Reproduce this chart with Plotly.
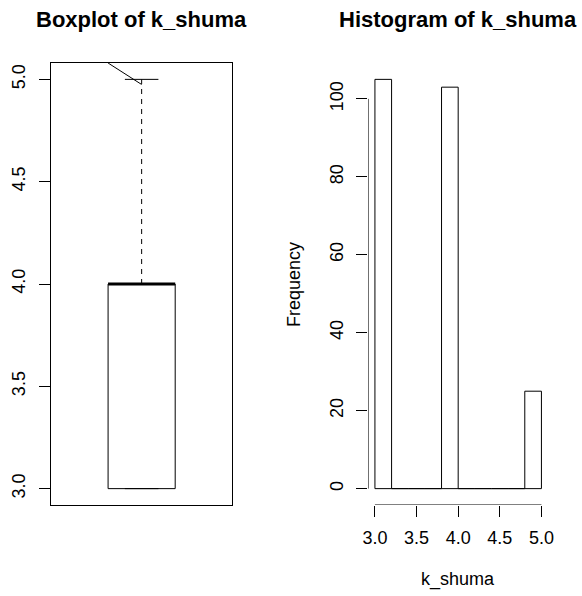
import plotly.graph_objects as go

W, H = 582, 596

# ---- data ----
box_stats = [3.0, 3.0, 4.0, 4.0, 5.0]   # lower whisker, Q1, median, Q3, upper whisker
box_yticks = [3.0, 3.5, 4.0, 4.5, 5.0]
stray_x = [0.8, 1.0]                     # odd stroke at the top of the boxplot
stray_y = [5.08, 4.975]

bin_edges = [3.0, 3.2, 3.4, 3.6, 3.8, 4.0, 4.2, 4.4, 4.6, 4.8, 5.0]
counts = [105, 0, 0, 0, 103, 0, 0, 0, 0, 25]
hist_xticks = [3.0, 3.5, 4.0, 4.5, 5.0]
hist_yticks = [0, 20, 40, 60, 80, 100]

FONT = "Liberation Sans, Arial, Helvetica, sans-serif"
BLACK = "#000000"


def px_x(p):
    return p / W


def px_y(p):
    return 1 - p / H


fig = go.Figure()

# ---- boxplot ----
lw, q1, med, q3, uw = box_stats
c, hw, cw = 1.0, 0.2, 0.1
fig.add_trace(go.Scatter(x=[c - hw, c + hw, c + hw, c - hw, c - hw], y=[q1, q1, q3, q3, q1],
                         mode="lines", line=dict(color=BLACK, width=1), xaxis="x", yaxis="y",
                         hoverinfo="skip"))
fig.add_trace(go.Scatter(x=[c - hw, c + hw], y=[med, med], mode="lines",
                         line=dict(color=BLACK, width=3), xaxis="x", yaxis="y"))
fig.add_trace(go.Scatter(x=[c, c, None, c, c], y=[q3, uw, None, lw, q1], mode="lines",
                         line=dict(color=BLACK, width=1, dash="5px,5px"), xaxis="x", yaxis="y"))
fig.add_trace(go.Scatter(x=[c - cw, c + cw, None, c - cw, c + cw], y=[uw, uw, None, lw, lw],
                         mode="lines", line=dict(color=BLACK, width=1), xaxis="x", yaxis="y"))
fig.add_trace(go.Scatter(x=stray_x, y=stray_y, mode="lines", line=dict(color=BLACK, width=1),
                         xaxis="x", yaxis="y"))

# ---- histogram (rectangles built from breaks and counts) ----
hx, hy = [], []
for i, n in enumerate(counts):
    a, b = bin_edges[i], bin_edges[i + 1]
    hx += [a, a, b, b, a, None]
    hy += [0, n, n, 0, 0, None]
fig.add_trace(go.Scatter(x=hx, y=hy, mode="lines", line=dict(color=BLACK, width=1),
                         xaxis="x2", yaxis="y2", fill="toself", fillcolor="white"))

xr2 = [bin_edges[0] - 0.04 * (bin_edges[-1] - bin_edges[0]),
       bin_edges[-1] + 0.04 * (bin_edges[-1] - bin_edges[0])]
yr2 = [-0.04 * max(counts), max(counts) * 1.04]

# axis lines spanning first to last tick (R style)
fig.add_trace(go.Scatter(x=[xr2[0], xr2[0]], y=[hist_yticks[0], hist_yticks[-1]], mode="lines",
                         line=dict(color=BLACK, width=1), xaxis="x2", yaxis="y2", cliponaxis=False))
fig.add_trace(go.Scatter(x=[hist_xticks[0], hist_xticks[-1]], y=[yr2[0], yr2[0]], mode="lines",
                         line=dict(color=BLACK, width=1), xaxis="x2", yaxis="y2", cliponaxis=False))

ydom = [px_y(505), px_y(63)]
tickfont = dict(family=FONT, size=18, color=BLACK)

fig.update_layout(
    width=W, height=H, margin=dict(l=0, r=0, t=0, b=0),
    paper_bgcolor="white", plot_bgcolor="white", showlegend=False,
    font=dict(family=FONT, size=18, color=BLACK),
    xaxis=dict(domain=[px_x(46), px_x(231)], range=[0.46, 1.54], showticklabels=False,
               ticks="", showgrid=False, zeroline=False, showline=True, mirror=True,
               linecolor=BLACK, linewidth=1, fixedrange=True),
    yaxis=dict(domain=ydom, range=[2.92, 5.08], tickvals=box_yticks,
               ticktext=[f"{v:.1f}" for v in box_yticks], tickangle=-90, ticks="outside",
               ticklen=11, tickcolor=BLACK, tickwidth=1, tickfont=tickfont, showgrid=False,
               zeroline=False, showline=True, mirror=True, linecolor=BLACK, linewidth=1,
               ticklabelstandoff=7, fixedrange=True),
    xaxis2=dict(domain=[px_x(369.9), px_x(553.5)], range=xr2, anchor="y2", tickvals=hist_xticks,
                ticktext=[f"{v:.1f}" for v in hist_xticks], ticks="outside", ticklen=11,
                tickcolor=BLACK, tickwidth=1, tickfont=tickfont, showgrid=False, zeroline=False,
                showline=False, ticklabelstandoff=5, fixedrange=True),
    yaxis2=dict(domain=ydom, range=yr2, anchor="x2", tickvals=hist_yticks,
                ticktext=[str(v) for v in hist_yticks], tickangle=-90, ticks="outside", ticklen=11,
                tickcolor=BLACK, tickwidth=1, tickfont=tickfont, showgrid=False, zeroline=False,
                showline=False, ticklabelstandoff=6, fixedrange=True),
    annotations=[
        dict(text="<b>Boxplot of k_shuma</b>", x=px_x(138.5), y=px_y(20), xref="paper", yref="paper",
             showarrow=False, xanchor="center", yanchor="middle", font=dict(family=FONT, size=22)),
        dict(text="<b>Histogram of k_shuma</b>", x=px_x(461.7), y=px_y(20), xref="paper", yref="paper",
             showarrow=False, xanchor="center", yanchor="middle", font=dict(family=FONT, size=22)),
        dict(text="Frequency", x=px_x(294), y=px_y(284), xref="paper", yref="paper", textangle=-90,
             showarrow=False, xanchor="center", yanchor="middle", font=dict(family=FONT, size=18)),
        dict(text="k_shuma", x=px_x(461.7), y=px_y(579), xref="paper", yref="paper",
             showarrow=False, xanchor="center", yanchor="middle", font=dict(family=FONT, size=18)),
    ],
)

fig.write_html("out.html")
